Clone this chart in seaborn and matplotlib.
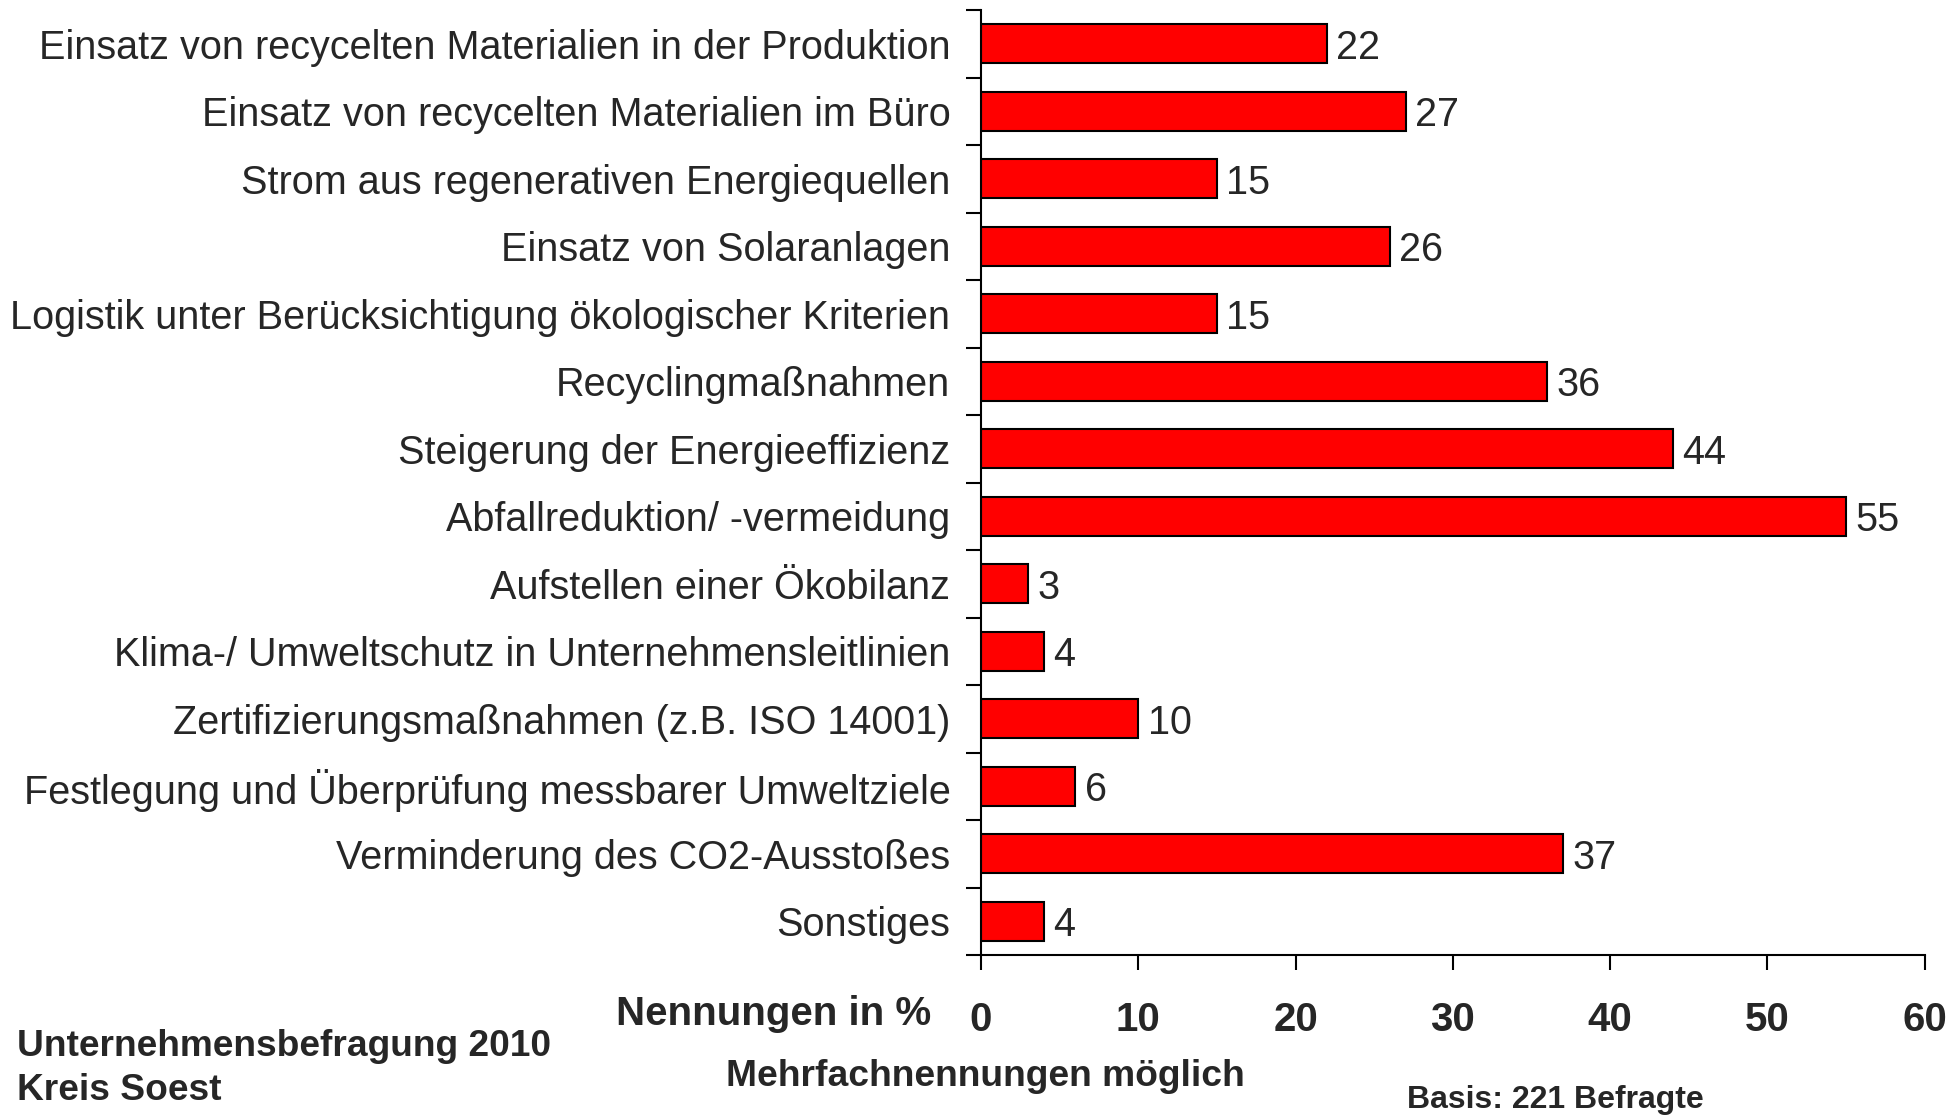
import matplotlib
matplotlib.use("Agg")
import matplotlib.pyplot as plt
import seaborn as sns
import pandas as pd
import numpy as np

# Daten aus der Grafik
kategorien = [
    "Einsatz von recycelten Materialien in der Produktion",
    "Einsatz von recycelten Materialien im Büro",
    "Strom aus regenerativen Energiequellen",
    "Einsatz von Solaranlagen",
    "Logistik unter Berücksichtigung ökologischer Kriterien",
    "Recyclingmaßnahmen",
    "Steigerung der Energieeffizienz",
    "Abfallreduktion/ -vermeidung",
    "Aufstellen einer Ökobilanz",
    "Klima-/ Umweltschutz in Unternehmensleitlinien",
    "Zertifizierungsmaßnahmen (z.B. ISO 14001)",
    "Festlegung und Überprüfung messbarer Umweltziele",
    "Verminderung des CO2-Ausstoßes",
    "Sonstiges",
]
nennungen = [22, 27, 15, 26, 15, 36, 44, 55, 3, 4, 10, 6, 37, 4]
x_ticks = [0, 10, 20, 30, 40, 50, 60]

df = pd.DataFrame({"kategorie": kategorien, "wert": nennungen})

sns.set_style("white")
plt.rcParams["font.family"] = ["Liberation Sans", "DejaVu Sans"]

fig = plt.figure(figsize=(19.6, 11.15), dpi=100)
ax = fig.add_axes([0.5005, 0.1435, 0.4815, 0.8475])

sns.barplot(data=df, x="wert", y="kategorie", orient="h", color="#ff0000",
            saturation=1, edgecolor="black", linewidth=1.5, width=0.58, ax=ax)

# Werte rechts neben den Balken
for i, v in enumerate(nennungen):
    ax.text(v + 0.6, i, str(v), va="center_baseline", ha="left", fontsize=28.5)

ax.set_xlim(0, 60)
ax.set_ylim(len(kategorien) - 0.5, -0.5)
ax.set_xticks(x_ticks)
ax.set_xticklabels([str(t) for t in x_ticks], fontsize=29, fontweight="bold")
ax.tick_params(axis="x", bottom=True, length=11, width=1.5, color="black", pad=22, direction="out")
ax.tick_params(axis="y", which="major", left=True, length=0, pad=22, labelsize=28.5)
ax.set_yticks(np.arange(-0.5, len(kategorien) + 0.5, 1), minor=True)
ax.tick_params(axis="y", which="minor", left=True, length=11, width=1.5, color="black", direction="out")
ax.set_xlabel("")
ax.set_ylabel("")

for s in ["top", "right"]:
    ax.spines[s].set_visible(False)
for s in ["left", "bottom"]:
    ax.spines[s].set_color("black")
    ax.spines[s].set_linewidth(1.5)

fig.text(931 / 1960, 1 - 1014 / 1115, "Nennungen in %", ha="right", va="center",
         fontsize=29, fontweight="bold")
fig.text(985 / 1960, 1 - 1076 / 1115, "Mehrfachnennungen möglich", ha="center", va="center",
         fontsize=26.8, fontweight="bold")
fig.text(17 / 1960, 1 - 1046 / 1115, "Unternehmensbefragung 2010", ha="left", va="center",
         fontsize=26.7, fontweight="bold")
fig.text(17 / 1960, 1 - 1090 / 1115, "Kreis Soest", ha="left", va="center",
         fontsize=26.7, fontweight="bold")
fig.text(1555 / 1960, 1 - 1100 / 1115, "Basis: 221 Befragte", ha="center", va="center",
         fontsize=23, fontweight="bold")

fig.savefig("out.png", dpi=100)
